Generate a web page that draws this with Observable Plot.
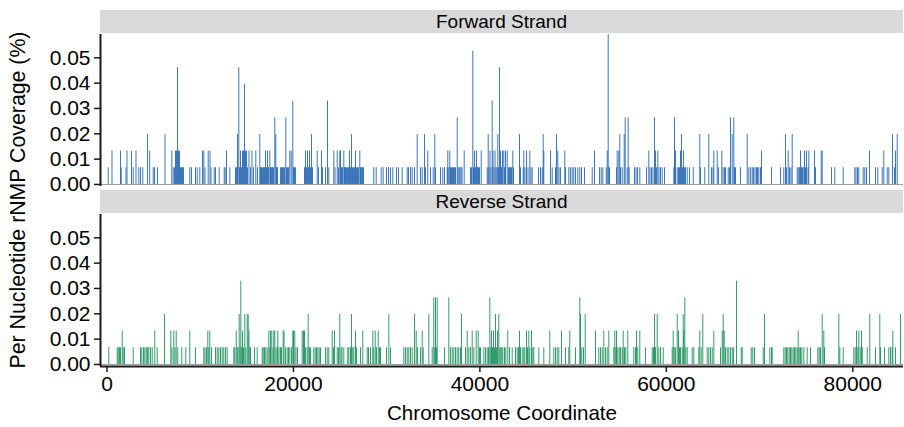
<!DOCTYPE html>
<html><head><meta charset="utf-8">
<script src="https://cdn.jsdelivr.net/npm/d3@7"></script>
<script src="https://cdn.jsdelivr.net/npm/@observablehq/plot@0.6"></script>
<style>
body{margin:0;background:#fff;}
#chart{position:relative;width:904px;height:427px;font-family:"Liberation Sans",Arial,Helvetica,sans-serif;color:#000;overflow:hidden;}
.strip{position:absolute;left:100px;width:803px;height:23px;background:#d9d9d9;text-align:center;font-size:19px;line-height:23px;}
.panel{position:absolute;left:0;}
#ytitle{position:absolute;left:18px;top:200px;transform:translate(-50%,-50%) rotate(-90deg);white-space:nowrap;font-size:21.3px;}
#xtitle{position:absolute;left:502px;top:413px;transform:translate(-50%,-50%);white-space:nowrap;font-size:20.6px;}
</style></head>
<body>
<div id="chart"></div>
<script>
const strands = ["Forward Strand", "Reverse Strand"];
const xTicks = [0, 20000, 40000, 60000, 80000];
const yTicks = [0, 0.01, 0.02, 0.03, 0.04, 0.05];
const xTitle = "Chromosome Coordinate";
const yTitle = "Per Nucleotide rNMP Coverage (%)";

// [chromosome coordinate, coverage %]
const forwardSpikes = [[129,0.0066],[536,0.0132],[1448,0.0132],[1523,0.0066],[2038,0.0066],[2145,0.0132],[2628,0.0132],[2811,0.0066],[3111,0.0132],[3411,0.0066],[3594,0.0066],[3840,0.0066],[4344,0.0197],[4580,0.0132],[4956,0.0066],[5095,0.0066],[5417,0.0066],[6222,0.0197],[6951,0.0132],[7101,0.0066],[7241,0.0066],[7348,0.0132],[7455,0.0132],[7563,0.0461],[7670,0.0132],[7777,0.0132],[7884,0.0066],[7992,0.0066],[8099,0.0066],[8206,0.0066],[8882,0.0066],[9064,0.0066],[9493,0.0066],[9676,0.0066],[9955,0.0066],[10244,0.0132],[10384,0.0132],[10512,0.0066],[10856,0.0132],[11049,0.0132],[11156,0.0066],[11499,0.0066],[11639,0.0066],[12036,0.0066],[12572,0.0066],[12679,0.0066],[12819,0.0132],[13173,0.0066],[13784,0.0066],[13891,0.0066],[13999,0.0197],[14138,0.0461],[14213,0.0066],[14321,0.0132],[14428,0.0066],[14535,0.0132],[14642,0.0132],[14750,0.0395],[14857,0.0132],[14964,0.0132],[15071,0.0066],[15232,0.0132],[15393,0.0066],[15554,0.0132],[15715,0.0066],[15962,0.0132],[16144,0.0066],[16391,0.0197],[16466,0.0066],[16573,0.0066],[16680,0.0066],[16788,0.0066],[16895,0.0066],[17002,0.0132],[17110,0.0066],[17217,0.0132],[17324,0.0066],[17464,0.0132],[17539,0.0066],[17646,0.0066],[17753,0.0066],[17860,0.0066],[18000,0.0263],[18107,0.0197],[18182,0.0066],[18290,0.0066],[18611,0.0066],[18719,0.0066],[18826,0.0066],[18933,0.0066],[19040,0.0066],[19180,0.0263],[19255,0.0066],[19362,0.0066],[19470,0.0066],[19609,0.0132],[19759,0.0132],[19931,0.0329],[20006,0.0066],[20113,0.0066],[20220,0.0066],[21186,0.0066],[21293,0.0132],[21400,0.0066],[21508,0.0132],[21615,0.0066],[21722,0.0132],[21830,0.0066],[21937,0.0197],[22044,0.0066],[22548,0.0132],[22688,0.0066],[23009,0.0132],[23117,0.0066],[23438,0.0066],[23653,0.0329],[23793,0.0066],[24329,0.0132],[24458,0.0066],[24694,0.0132],[24833,0.0066],[24972,0.0132],[25048,0.0132],[25155,0.0066],[25262,0.0066],[25402,0.0132],[25477,0.0066],[25584,0.0066],[25691,0.0066],[25798,0.0066],[25906,0.0066],[26013,0.0132],[26120,0.0066],[26228,0.0197],[26335,0.0066],[26442,0.0066],[26549,0.0066],[26657,0.0132],[26764,0.0066],[26871,0.0066],[26978,0.0066],[27118,0.0132],[27193,0.0066],[27300,0.0066],[27408,0.0066],[27515,0.0066],[28620,0.0066],[28877,0.0066],[29414,0.0066],[29628,0.0066],[29982,0.0066],[30197,0.0066],[30411,0.0066],[30658,0.0066],[31055,0.0066],[31269,0.0066],[31666,0.0066],[32202,0.0066],[32342,0.0066],[32556,0.0066],[32739,0.0066],[32986,0.0066],[33275,0.0197],[33629,0.0066],[33812,0.0066],[34058,0.0197],[34166,0.0066],[34412,0.0132],[34702,0.0066],[34992,0.0066],[35163,0.0197],[35238,0.0066],[35775,0.0066],[36021,0.0066],[36204,0.0066],[36493,0.0066],[36558,0.0132],[36665,0.0066],[36772,0.0132],[36847,0.0066],[36955,0.0066],[37062,0.0066],[37169,0.0066],[37276,0.0066],[37384,0.0066],[37566,0.0263],[37652,0.0066],[37759,0.0066],[37866,0.0066],[37974,0.0066],[38081,0.0066],[38317,0.0132],[38993,0.0066],[39100,0.0066],[39239,0.0526],[39315,0.0066],[39422,0.0132],[39529,0.0066],[39636,0.0132],[39744,0.0066],[39851,0.0066],[39958,0.0066],[40141,0.0132],[40784,0.0066],[40891,0.0197],[40977,0.0066],[41084,0.0132],[41192,0.0066],[41320,0.0329],[41406,0.0132],[41513,0.0066],[41621,0.0132],[41728,0.0066],[41835,0.0066],[41921,0.0197],[41996,0.0066],[42103,0.0461],[42211,0.0132],[42318,0.0066],[42425,0.0132],[42565,0.0132],[42640,0.0066],[42747,0.0132],[42929,0.0132],[43069,0.0066],[43176,0.0066],[43283,0.0066],[43391,0.0066],[43531,0.0132],[43605,0.0066],[44249,0.0197],[44356,0.0066],[44646,0.0066],[44710,0.0132],[44839,0.0066],[45000,0.0132],[45161,0.0066],[45354,0.0132],[45482,0.0066],[45611,0.0066],[46287,0.0066],[46502,0.0066],[46684,0.0066],[46791,0.0197],[46856,0.0132],[47574,0.0132],[47757,0.0066],[48111,0.0066],[48218,0.0197],[48357,0.0132],[48486,0.0066],[48647,0.0066],[49108,0.0132],[49183,0.0066],[49537,0.0066],[49720,0.0066],[49902,0.0066],[50074,0.0066],[50256,0.0066],[50503,0.0066],[50717,0.0066],[50901,0.0066],[51222,0.0066],[52048,0.0066],[52294,0.0132],[52830,0.0066],[53013,0.0066],[53186,0.0066],[53549,0.0066],[53657,0.0132],[53763,0.0592],[53850,0.0066],[53903,0.0066],[54654,0.0066],[54729,0.0132],[54901,0.0132],[55008,0.0197],[55083,0.0066],[55266,0.0066],[55480,0.0197],[55587,0.0263],[55802,0.0066],[55909,0.0263],[56017,0.0066],[56585,0.0066],[56746,0.0066],[56907,0.0066],[57153,0.0066],[57872,0.0066],[58119,0.0132],[58248,0.0066],[58409,0.0066],[58569,0.0066],[58730,0.0263],[58837,0.0132],[58945,0.0066],[59084,0.0132],[59213,0.0066],[59374,0.0066],[59556,0.0066],[59803,0.0066],[60801,0.0066],[60876,0.0263],[60983,0.0132],[61165,0.0066],[61305,0.0066],[61412,0.0066],[61520,0.0132],[61627,0.0197],[61734,0.0066],[61841,0.0132],[61949,0.0066],[62056,0.0066],[62238,0.0066],[62485,0.0066],[62882,0.0066],[63590,0.0197],[63665,0.0066],[64126,0.0066],[64555,0.0197],[64845,0.0066],[65006,0.0066],[65092,0.0132],[65456,0.0132],[65596,0.0066],[65950,0.0132],[66078,0.0066],[66239,0.0066],[66346,0.0066],[66636,0.0066],[66776,0.0066],[66883,0.0263],[67066,0.0197],[67237,0.0263],[67312,0.0066],[67420,0.0066],[67956,0.0066],[68674,0.0197],[68846,0.0066],[69028,0.0066],[69211,0.0066],[69350,0.0066],[69511,0.0066],[69672,0.0066],[69779,0.0066],[69919,0.0066],[70101,0.0066],[70208,0.0132],[71281,0.0066],[72246,0.0066],[72600,0.0066],[72783,0.0197],[72890,0.0066],[73073,0.0132],[73212,0.0066],[73373,0.0066],[73502,0.0197],[74038,0.0066],[74146,0.0066],[74285,0.0066],[74392,0.0132],[74499,0.0066],[74607,0.0066],[74746,0.0066],[74821,0.0132],[74928,0.0066],[75036,0.0132],[75196,0.0066],[75282,0.0132],[75894,0.0132],[76001,0.0066],[76613,0.0132],[76720,0.0132],[77717,0.0066],[78071,0.0066],[78972,0.0066],[80216,0.0066],[80345,0.0066],[80506,0.0066],[80646,0.0066],[81118,0.0066],[81289,0.0066],[81472,0.0066],[81793,0.0132],[82437,0.0066],[82684,0.0066],[83156,0.0066],[83327,0.0132],[83692,0.0066],[83864,0.0066],[84261,0.0197],[84476,0.0066],[84583,0.0132],[84766,0.0197]];

const reverseSpikes = [[193,0.0066],[1094,0.0066],[1201,0.0066],[1341,0.0066],[1448,0.0066],[1631,0.0132],[1738,0.0066],[1877,0.0066],[2811,0.0066],[3594,0.0066],[3733,0.0066],[3915,0.0066],[4055,0.0066],[4205,0.0066],[4344,0.0066],[4484,0.0066],[4666,0.0066],[4849,0.0066],[5128,0.0132],[5385,0.0066],[6168,0.0197],[6844,0.0132],[6973,0.0066],[7166,0.0132],[7294,0.0066],[7423,0.0132],[7595,0.0066],[8024,0.0066],[8453,0.0066],[8882,0.0132],[9493,0.0066],[10384,0.0066],[10512,0.0066],[10673,0.0066],[10813,0.0132],[10920,0.0066],[11027,0.0132],[11210,0.0066],[11639,0.0066],[11821,0.0066],[11993,0.0066],[12175,0.0066],[12357,0.0066],[12529,0.0066],[12711,0.0066],[12894,0.0066],[13602,0.0066],[13709,0.0066],[13859,0.0132],[13967,0.0066],[14052,0.0066],[14181,0.0197],[14267,0.0066],[14353,0.0329],[14460,0.0066],[14535,0.0132],[14642,0.0066],[14782,0.0197],[14889,0.0066],[15039,0.0197],[15147,0.0197],[15232,0.0132],[15340,0.0066],[15393,0.0066],[15822,0.0066],[16112,0.0066],[16648,0.0066],[16756,0.0066],[16895,0.0066],[17034,0.0066],[17185,0.0066],[17356,0.0132],[17464,0.0066],[17539,0.0132],[17678,0.0132],[17807,0.0066],[17893,0.0132],[18000,0.0132],[18129,0.0066],[18257,0.0066],[18322,0.0132],[18450,0.0066],[18611,0.0066],[18719,0.0066],[18901,0.0132],[18987,0.0132],[19148,0.0066],[19330,0.0066],[19470,0.0066],[19609,0.0066],[19791,0.0066],[19931,0.0132],[20006,0.0132],[20145,0.0132],[20274,0.0066],[20435,0.0066],[20939,0.0132],[21078,0.0132],[21186,0.0132],[21293,0.0066],[21475,0.0066],[21583,0.0197],[21722,0.0066],[21830,0.0066],[22183,0.0066],[22334,0.0066],[22473,0.0066],[22613,0.0066],[22763,0.0066],[22902,0.0066],[23438,0.0066],[23621,0.0066],[23793,0.0066],[24157,0.0132],[24296,0.0066],[24404,0.0132],[24694,0.0066],[24833,0.0066],[24972,0.0197],[25101,0.0066],[25208,0.0066],[25402,0.0066],[25831,0.0066],[25938,0.0066],[26120,0.0066],[26228,0.0197],[26367,0.0066],[26474,0.0066],[26657,0.0132],[26764,0.0066],[27193,0.0066],[27440,0.0132],[27912,0.0066],[28052,0.0066],[28266,0.0066],[28512,0.0132],[28620,0.0066],[28770,0.0132],[28909,0.0066],[29092,0.0132],[29231,0.0066],[29339,0.0066],[29982,0.0066],[30229,0.0197],[30411,0.0066],[31838,0.0066],[32020,0.0066],[32202,0.0066],[32374,0.0066],[32556,0.0066],[32739,0.0066],[32986,0.0197],[33168,0.0132],[33307,0.0066],[33629,0.0066],[33812,0.0132],[33919,0.0066],[34520,0.0197],[34884,0.0066],[35056,0.0263],[35163,0.0066],[35238,0.0263],[35346,0.0066],[35421,0.0263],[36204,0.0066],[36665,0.0263],[36847,0.0066],[37030,0.0066],[37201,0.0066],[37384,0.0066],[37566,0.0066],[37738,0.0066],[37920,0.0066],[38027,0.0197],[38456,0.0066],[38639,0.0132],[38811,0.0066],[38993,0.0066],[39175,0.0132],[39347,0.0066],[39604,0.0132],[39819,0.0132],[39958,0.0066],[40066,0.0066],[40419,0.0066],[40601,0.0066],[40784,0.0066],[40924,0.0066],[41063,0.0263],[41170,0.0066],[41245,0.0132],[41353,0.0066],[41460,0.0132],[41567,0.0066],[41675,0.0197],[41782,0.0066],[41889,0.0132],[42029,0.0197],[42136,0.0066],[42243,0.0066],[42350,0.0066],[42458,0.0066],[42640,0.0066],[42779,0.0066],[42994,0.0132],[43176,0.0066],[43466,0.0066],[43820,0.0066],[44002,0.0066],[44142,0.0066],[44249,0.0132],[44356,0.0066],[44539,0.0066],[44710,0.0066],[44818,0.0066],[45000,0.0132],[45107,0.0066],[45246,0.0132],[45354,0.0066],[45536,0.0132],[45676,0.0066],[45783,0.0066],[46319,0.0066],[46856,0.0066],[47499,0.0132],[47928,0.0066],[48111,0.0066],[48293,0.0066],[48465,0.0066],[48754,0.0132],[49183,0.0066],[49537,0.0066],[49645,0.0132],[50256,0.0066],[50717,0.0263],[50794,0.0197],[50932,0.0066],[51115,0.0066],[51297,0.0197],[52400,0.0132],[52756,0.0066],[52938,0.0066],[53120,0.0066],[53292,0.0132],[53474,0.0066],[53657,0.0066],[53829,0.0132],[54365,0.0066],[54473,0.0132],[54579,0.0066],[54654,0.0132],[54794,0.0066],[54944,0.0066],[55083,0.0066],[55266,0.0066],[55373,0.0132],[55512,0.0066],[55652,0.0066],[55866,0.0132],[56510,0.0066],[56692,0.0066],[56800,0.0132],[56939,0.0066],[57153,0.0132],[57764,0.0066],[58484,0.0066],[58623,0.0066],[58730,0.0197],[58837,0.0066],[59020,0.0197],[59192,0.0066],[59374,0.0066],[59664,0.0066],[60630,0.0066],[60738,0.0132],[60845,0.0066],[60983,0.0066],[61165,0.0197],[61305,0.0132],[61412,0.0066],[61520,0.0066],[61702,0.0066],[61809,0.0197],[61874,0.0132],[61981,0.0263],[62088,0.0066],[62238,0.0066],[62776,0.0066],[62947,0.0066],[63484,0.0066],[63590,0.0132],[63741,0.0066],[63912,0.0197],[64383,0.0066],[64555,0.0066],[64737,0.0066],[64920,0.0066],[65092,0.0132],[65810,0.0066],[65992,0.0132],[66100,0.0197],[66207,0.0132],[66346,0.0066],[66529,0.0066],[66701,0.0066],[66883,0.0066],[67066,0.0066],[67206,0.0066],[67527,0.0329],[68031,0.0066],[68138,0.0066],[69103,0.0066],[69275,0.0066],[69457,0.0066],[70391,0.0066],[70531,0.0197],[71100,0.0066],[71281,0.0066],[71356,0.0066],[72600,0.0066],[72750,0.0066],[72890,0.0066],[73030,0.0066],[73180,0.0066],[73320,0.0066],[73460,0.0066],[73610,0.0066],[73749,0.0066],[73889,0.0066],[74038,0.0066],[74146,0.0132],[74253,0.0066],[74392,0.0066],[74532,0.0066],[74746,0.0066],[75110,0.0066],[75464,0.0066],[76247,0.0066],[76397,0.0066],[76538,0.0066],[76720,0.0197],[76891,0.0132],[76966,0.0066],[78502,0.0197],[78609,0.0066],[78972,0.0066],[80109,0.0066],[80259,0.0066],[80399,0.0132],[80539,0.0066],[80646,0.0132],[80797,0.0066],[80937,0.0132],[81012,0.0066],[81547,0.0066],[81826,0.0197],[82437,0.0066],[82898,0.0197],[82973,0.0066],[83403,0.0066],[83864,0.0066],[84047,0.0066],[84229,0.0066],[84294,0.0132],[84583,0.0066],[85119,0.0197]];

const xDomain = [-697, 85440];
const yDomain = [-0.0008, 0.0592];
const axisColor = "#1a1a1a";

function panel(data, color, bottom) {
  return Plot.plot({
    width: 904,
    height: bottom ? 237 : 188,
    marginLeft: 100, marginRight: 1,
    marginTop: bottom ? 24 : 34,
    marginBottom: bottom ? 61 : 2,
    x: {domain: xDomain, axis: null},
    y: {domain: yDomain, axis: null},
    style: {background: "transparent", color: "#000", fontFamily: "'Liberation Sans', Arial, Helvetica, sans-serif", fontSize: "21px", overflow: "visible"},
    marks: [
      Plot.ruleY([0], {stroke: "#9a9a9a", strokeWidth: 1}),
      Plot.ruleX(data, {x: d => d[0], y1: 0, y2: d => d[1], stroke: color, strokeWidth: 1, strokeOpacity: 0.85}),
      Plot.axisY({ticks: yTicks, tickFormat: d3.format(".2f"), tickSize: 6, tickPadding: 4, fontSize: 21, label: null, stroke: axisColor, strokeWidth: 1.5}),
      Plot.ruleX([xDomain[0]], {stroke: axisColor, strokeWidth: 2}),
      bottom ? Plot.axisX({ticks: xTicks, tickFormat: d3.format("d"), tickSize: 6, tickPadding: 4, fontSize: 21, label: null, stroke: axisColor, strokeWidth: 1.5}) : null,
      bottom ? Plot.ruleY([yDomain[0]], {stroke: axisColor, strokeWidth: 2}) : null
    ]
  });
}

const chart = document.getElementById("chart");
const p1 = panel(forwardSpikes, "#1a5fb0", false);
p1.classList.add("panel"); p1.style.top = "0px";
const p2 = panel(reverseSpikes, "#108a55", true);
p2.classList.add("panel"); p2.style.top = "190px";
chart.appendChild(p1);
chart.appendChild(p2);

strands.forEach((s, i) => {
  const d = document.createElement("div");
  d.className = "strip";
  d.style.top = (i === 0 ? 10 : 190) + "px";
  d.textContent = s;
  chart.appendChild(d);
});
const yt = document.createElement("div"); yt.id = "ytitle"; yt.textContent = yTitle; chart.appendChild(yt);
const xt = document.createElement("div"); xt.id = "xtitle"; xt.textContent = xTitle; chart.appendChild(xt);
</script>
</body></html>
